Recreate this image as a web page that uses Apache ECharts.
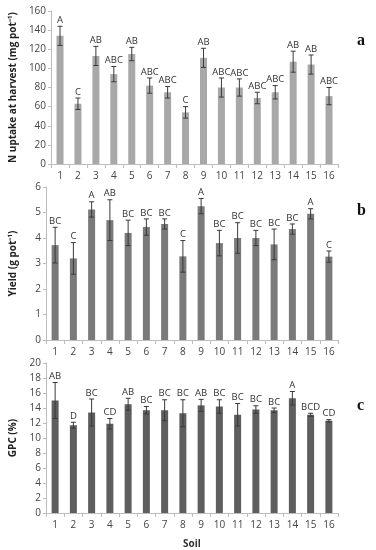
<!DOCTYPE html>
<html><head><meta charset="utf-8">
<script src="https://cdn.jsdelivr.net/npm/echarts@6/dist/echarts.min.js"></script>
<style>html,body{margin:0;padding:0;background:#fff}#c{width:376px;height:550px}</style>
</head><body><div id="c"></div>
<script>
var categories = ['1','2','3','4','5','6','7','8','9','10','11','12','13','14','15','16'];
var nUptake = [134,63,113,94,115,82,75,54,111,80,80,69,75,107,104,71];
var nUptakeErr = [10,6,10,8,7,8,6,6,10,10,9,6,7,11,10,9];
var nUptakeLetters = ['A','C','AB','ABC','AB','ABC','ABC','C','AB','ABC','ABC','ABC','ABC','AB','AB','ABC'];
var yieldVals = [3.72,3.2,5.12,4.7,4.2,4.43,4.55,3.28,5.25,3.8,4.0,4.0,3.75,4.35,4.95,3.27];
var yieldErr = [0.7,0.62,0.3,0.8,0.5,0.32,0.2,0.62,0.3,0.5,0.6,0.3,0.6,0.2,0.2,0.22];
var yieldLetters = ['BC','C','A','AB','BC','BC','BC','C','A','BC','BC','BC','BC','BC','A','C'];
var gpc = [15,11.7,13.4,11.9,14.5,13.7,13.7,13.3,14.35,14.2,13.1,13.8,13.7,15.3,13.1,12.3];
var gpcErr = [2.4,0.4,1.8,0.7,0.8,0.5,1.4,1.8,0.8,0.9,1.5,0.5,0.3,0.9,0.2,0.15];
var gpcLetters = ['AB','D','BC','CD','AB','BC','BC','BC','AB','BC','BC','BC','BC','A','BCD','CD'];

var FONT = 'Open Sans';
var panels = [
  {vals:nUptake, err:nUptakeErr, let:nUptakeLetters, max:160, interval:20, name:'N uptake at harvest (mg pot\u207B\u00B9)', color:'#a8a8a8', top:11, height:153, tag:'a'},
  {vals:yieldVals, err:yieldErr, let:yieldLetters, max:6, interval:1, name:'Yield (g pot\u207B\u00B9)', color:'#7a7a7a', top:187, height:153, tag:'b'},
  {vals:gpc, err:gpcErr, let:gpcLetters, max:20, interval:2, name:'GPC (%)', color:'#5e5e5e', top:363, height:152, tag:'c'}
];

var grid=[], xAxis=[], yAxis=[], series=[], graphic=[];
panels.forEach(function(p,i){
  grid.push({left:42, right:38, top:p.top, height:p.height});
  xAxis.push({type:'category', gridIndex:i, data:categories, boundaryGap:true,
    name: i===2 ? 'Soil' : '', nameLocation:'middle', nameGap:26,
    nameTextStyle:{fontFamily:FONT, fontSize:10, fontWeight:'bold', color:'#333'},
    axisLine:{lineStyle:{color:'#bdbdbd'}},
    axisTick:{show:true, alignWithLabel:false, length:4, lineStyle:{color:'#bdbdbd'}},
    axisLabel:{fontFamily:FONT, fontSize:10, color:'#444', margin:7}});
  yAxis.push({type:'value', gridIndex:i, min:0, max:p.max, interval:p.interval,
    name:p.name, nameLocation:'middle', nameGap:28,
    nameTextStyle:{fontFamily:FONT, fontSize:10, fontWeight:'bold', color:'#222'},
    axisLine:{show:true, lineStyle:{color:'#bdbdbd'}},
    axisTick:{show:true, length:3, lineStyle:{color:'#bdbdbd'}},
    splitLine:{show:false},
    axisLabel:{fontFamily:FONT, fontSize:10, color:'#444', margin:5}});
  series.push({type:'bar', xAxisIndex:i, yAxisIndex:i, data:p.vals, barWidth:7,
    itemStyle:{color:p.color}, silent:true});
  var ed = p.vals.map(function(v,k){return [k, v-p.err[k], v+p.err[k], p.let[k]];});
  series.push({type:'custom', xAxisIndex:i, yAxisIndex:i, data:ed, z:5,
    renderItem:function(params, api){
      var x = api.value(0);
      var lo = api.coord([x, api.value(1)]);
      var hi = api.coord([x, api.value(2)]);
      var c = 2.5;
      var st = {stroke:'#3a3a3a', lineWidth:1};
      return {type:'group', children:[
        {type:'line', shape:{x1:lo[0],y1:lo[1],x2:hi[0],y2:hi[1]}, style:st},
        {type:'line', shape:{x1:lo[0]-c,y1:lo[1],x2:lo[0]+c,y2:lo[1]}, style:st},
        {type:'line', shape:{x1:hi[0]-c,y1:hi[1],x2:hi[0]+c,y2:hi[1]}, style:st},
        {type:'text', x:hi[0], y:hi[1]-1, style:{text:api.value(3), textAlign:'center', textVerticalAlign:'bottom',
          font:'9.5px "'+FONT+'"', fill:'#333'}}
      ]};
    }, encode:{x:0, y:[1,2]}});
  graphic.push({type:'text', left:357, top:[33,203,398][i], style:{text:p.tag, font:'bold 16px "Liberation Serif"', fill:'#111'}});
});

var chart = echarts.init(document.getElementById('c'), null, {renderer:'canvas'});
chart.setOption({animation:false, grid:grid, xAxis:xAxis, yAxis:yAxis, series:series, graphic:graphic});
</script></body></html>
